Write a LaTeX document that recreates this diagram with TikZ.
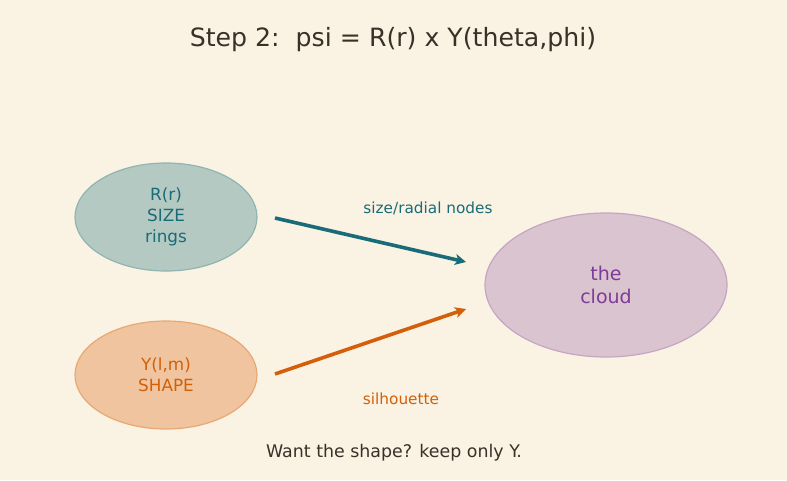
\documentclass[tikz,border=0pt]{standalone}
\usepackage{fontspec}
\setmainfont{DejaVu Sans}
\usetikzlibrary{shapes.geometric,arrows.meta}
\definecolor{bg}{HTML}{FAF3E3}
\definecolor{tealc}{HTML}{1A6B78}
\definecolor{orangec}{HTML}{D35F0A}
\definecolor{purplec}{HTML}{7D3C98}
\definecolor{rfill}{HTML}{B5C9C3}
\definecolor{rdraw}{HTML}{8FB5B0}
\definecolor{yfill}{HTML}{EFC49E}
\definecolor{ydraw}{HTML}{E8A874}
\definecolor{cfill}{HTML}{DAC4CF}
\definecolor{cdraw}{HTML}{C4A6C4}
\definecolor{textc}{HTML}{3A3028}
\begin{document}
\begin{tikzpicture}[x=1pt,y=-1pt,
  blob/.style={ellipse,inner sep=0pt,line width=1.2pt,align=center},
  conn/.style={line width=3.6pt,-{Stealth[length=11pt,width=11pt,inset=3pt]}},
  lab/.style={font=\fontsize{15.3}{18}\selectfont}]
\fill[bg] (0,0) rectangle (787,480);
\useasboundingbox (0,0) rectangle (787,480);
\node[text=textc,font=\fontsize{25.2}{30}\selectfont] (title) at (393,39.5) {Step 2:\ \ psi = R(r) x Y(theta,phi)};
\node[blob,fill=rfill,draw=rdraw,minimum width=182pt,minimum height=108pt,text=tealc,font=\fontsize{16.8}{21}\selectfont] (R) at (166,217) {R(r)\\SIZE\\rings};
\node[blob,fill=yfill,draw=ydraw,minimum width=182pt,minimum height=108pt,text=orangec,font=\fontsize{16.8}{21}\selectfont] (Y) at (166,375) {Y(l,m)\\SHAPE};
\node[blob,fill=cfill,draw=cdraw,minimum width=242pt,minimum height=144pt,text=purplec,font=\fontsize{19}{23}\selectfont] (C) at (606,285) {the\\cloud};
\coordinate (a1s) at (275,218);
\coordinate (a1e) at (466,262);
\coordinate (a2s) at (275,374);
\coordinate (a2e) at (466,309);
\draw[conn,tealc] (a1s) -- (a1e);
\draw[conn,orangec] (a2s) -- (a2e);
\node[lab,text=tealc] (l1) at (428,208.5) {size/radial nodes};
\node[lab,text=orangec] (l2) at (401,398.5) {silhouette};
\node[text=textc,font=\fontsize{17.4}{21}\selectfont] (foot) at (394,453) {Want the shape? keep only Y.};
\end{tikzpicture}
\end{document}
